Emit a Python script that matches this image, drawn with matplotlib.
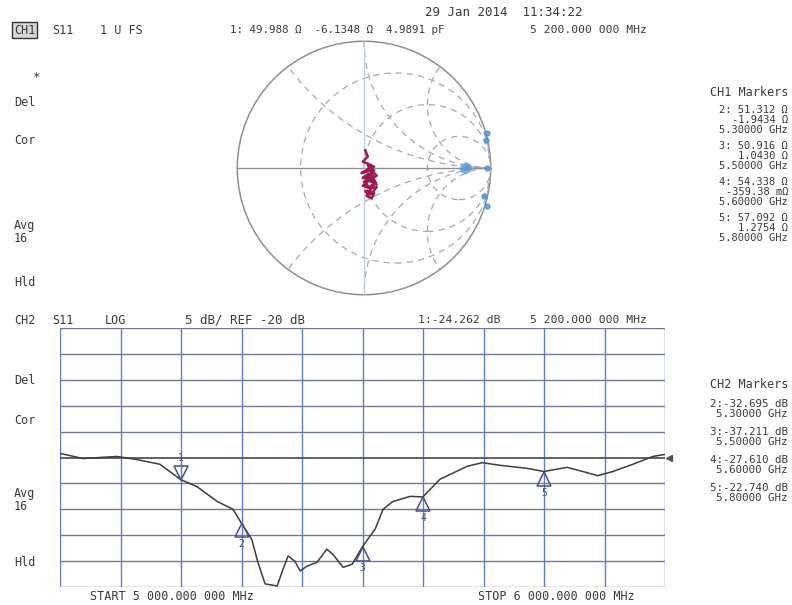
import matplotlib
matplotlib.use("Agg")
import matplotlib.pyplot as plt
import numpy as np
from matplotlib.patches import Circle
from matplotlib.transforms import offset_copy

# ---------------- data ----------------
freq_mhz = [5000, 5038, 5094, 5127, 5165, 5200, 5226, 5260, 5286, 5300,
            5317, 5327, 5339, 5359, 5367, 5377, 5388, 5397, 5408, 5425,
            5441, 5451, 5468, 5483, 5491, 5500, 5521, 5534, 5550, 5579,
            5600, 5628, 5673, 5698, 5727, 5772, 5800, 5838, 5864, 5889,
            5914, 5947, 5980, 6000]
s11_db = [-19.2, -20.2, -19.8, -20.4, -21.3, -24.3, -25.6, -28.5, -30.0, -32.7,
          -35.8, -40.2, -44.4, -44.8, -42.1, -39.0, -40.0, -41.9, -41.0, -40.2,
          -37.7, -38.7, -41.2, -40.6, -39.0, -37.2, -33.8, -30.0, -28.5, -27.5,
          -27.6, -24.2, -21.7, -21.0, -21.5, -22.1, -22.7, -21.9, -22.7, -23.5,
          -22.7, -21.3, -19.8, -19.4]

marker_ids = ["1", "2", "3", "4", "5"]
marker_freq = [5200, 5300, 5500, 5600, 5800]
marker_db = [-24.262, -32.695, -37.211, -27.610, -22.740]

# smith chart trace (reflection coefficient, real / imag)
smith_re = [0.01, 0.03, -0.01, 0.04, 0.08, 0.03, -0.02, 0.06, 0.10, 0.05,
            0.00, 0.07, 0.10, 0.04, -0.01, 0.05, 0.10, 0.07, 0.01, 0.03,
            0.08, 0.06, 0.02, 0.05, 0.09, 0.03, -0.01, 0.06, 0.09, 0.04,
            0.00, 0.05, 0.08, 0.03, 0.06]
smith_im = [0.14, 0.09, 0.05, 0.03, 0.01, -0.01, -0.04, -0.02, -0.06, -0.09,
            -0.07, -0.11, -0.13, -0.10, -0.14, -0.16, -0.15, -0.19, -0.18, -0.21,
            -0.20, -0.24, -0.22, -0.17, -0.11, -0.05, -0.08, -0.04, -0.12, -0.15,
            -0.11, -0.06, -0.02, 0.02, -0.03]
memory_re = [0.80, 0.82, 0.97, 0.96, 0.97, 0.95, 0.97]
memory_im = [0.00, 0.01, 0.00, 0.22, 0.28, -0.22, -0.30]

smith_r = [1 / 3, 1, 3]
smith_x = [0.5, 1, 2]

W, H = 792, 605
TXT = "#3a3a3a"
MONO = "DejaVu Sans Mono"

fig = plt.figure(figsize=(W / 100, H / 100), dpi=100)


def put(x, y, s, ha="left", size=8.5, **kw):
    fig.text(x / W, 1 - y / H, s, ha=ha, va="center", fontsize=size,
             family=MONO, color=TXT, **kw)


# ---------------- Smith chart ----------------
ax_s = fig.add_axes([236 / W, 1 - 296 / H, 256 / W, 256 / H])
ax_s.set_xlim(-1.01, 1.01)
ax_s.set_ylim(-1.01, 1.01)
ax_s.set_aspect("equal")
ax_s.axis("off")

outer = Circle((0, 0), 1, fill=False, ec="#8a8f98", lw=1.1)
ax_s.add_patch(outer)
for r in smith_r:
    c = Circle((r / (1 + r), 0), 1 / (1 + r), fill=False, ec="#a4a8b4",
               lw=0.9, ls=(0, (5, 4)))
    ax_s.add_patch(c)
    c.set_clip_path(outer)
for xv in smith_x:
    for sgn in (1, -1):
        c = Circle((1, sgn / xv), 1 / xv, fill=False, ec="#a4a8b4",
                   lw=0.9, ls=(0, (5, 4)))
        ax_s.add_patch(c)
        c.set_clip_path(outer)
ax_s.plot([-1, 1], [0, 0], color="#8a8f98", lw=1.0)
ax_s.plot([0, 0], [-1, 1], color="#b8cde0", lw=0.9)
ax_s.plot(memory_re, memory_im, "o", color="#4a90d9", ms=3.5, alpha=0.8)
ax_s.plot(memory_re[:1], memory_im[:1], "o", color="#5aa0e0", ms=7, alpha=0.7)
ax_s.plot(smith_re, smith_im, color="#9b1b50", lw=1.8)

# ---------------- S11 log magnitude ----------------
ax = fig.add_axes([60 / W, 1 - 587 / H, 605 / W, 259 / H])
ax.set_xlim(5000, 6000)
ax.set_ylim(-45, 5)
for f in np.arange(5000, 6001, 100):
    ax.axvline(f, color="#5f7cc8", lw=1.0)
for d in np.arange(-45, 6, 5):
    if d == -20:
        ax.axhline(d, color="#505560", lw=1.3)
    else:
        ax.axhline(d, color="#6f7896", lw=1.0)
for s in ax.spines.values():
    s.set_visible(False)
ax.set_xticks([])
ax.set_yticks([])
ax.plot(freq_mhz, s11_db, color="#3c3c3c", lw=1.1)

mcol = "#46508a"
for i, (mid, f, d) in enumerate(zip(marker_ids, marker_freq, marker_db)):
    if i == 0:
        tr = offset_copy(ax.transData, fig=fig, x=0, y=7, units="dots")
        ax.plot([f], [d], marker="v", ms=9.5, mfc="none", mec=mcol, mew=1.1,
                transform=tr)
        ax.annotate(mid, (f, d), xytext=(0, 22), textcoords="offset pixels",
                    ha="center", va="center", fontsize=7, family=MONO, color=mcol)
    else:
        tr = offset_copy(ax.transData, fig=fig, x=0, y=-7, units="dots")
        ax.plot([f], [d], marker="^", ms=9.5, mfc="none", mec=mcol, mew=1.1,
                transform=tr)
        ax.annotate(mid, (f, d), xytext=(0, -21), textcoords="offset pixels",
                    ha="center", va="center", fontsize=7, family=MONO, color=mcol)
tr = offset_copy(ax.transData, fig=fig, x=4, y=0, units="dots")
ax.plot([6000], [-20], marker="<", ms=5, color="#505560", transform=tr,
        clip_on=False)

# ---------------- annotations ----------------
put(425, 12, "29 Jan 2014  11:34:22", size=9)
put(14, 30, "CH1", bbox=dict(boxstyle="square,pad=0.15", fc="#d8d8d8",
                            ec="#333333", lw=1))
put(52, 30, "S11")
put(100, 30, "1 U FS")
put(230, 30, "1: 49.988 Ω  -6.1348 Ω  4.9891 pF", size=7.8)
put(530, 30, "5 200.000 000 MHz", size=8.2)

put(32, 77, "*", size=9)
for yy, s in [(103, "Del"), (140, "Cor"), (232, "Avg\n16"), (283, "Hld")]:
    put(14, yy, s, linespacing=0.9)
for yy, s in [(380, "Del"), (420, "Cor"), (500, "Avg\n16"), (562, "Hld")]:
    put(14, yy, s, linespacing=0.9)

put(788, 92, "CH1 Markers", ha="right")
ch1 = [("2: 51.312 Ω", "-1.9434 Ω", "5.30000 GHz"),
       ("3: 50.916 Ω", "1.0430 Ω", "5.50000 GHz"),
       ("4: 54.338 Ω", "-359.38 mΩ", "5.60000 GHz"),
       ("5: 57.092 Ω", "1.2754 Ω", "5.80000 GHz")]
for k, lines in enumerate(ch1):
    put(788, 120 + 36 * k, "\n".join(lines), ha="right", size=7.5,
        linespacing=0.95, multialignment="right")

put(788, 384, "CH2 Markers", ha="right")
ch2 = [("2:-32.695 dB", "5.30000 GHz"),
       ("3:-37.211 dB", "5.50000 GHz"),
       ("4:-27.610 dB", "5.60000 GHz"),
       ("5:-22.740 dB", "5.80000 GHz")]
for k, lines in enumerate(ch2):
    put(788, 409 + 28 * k, "\n".join(lines), ha="right", size=7.8,
        linespacing=0.95, multialignment="right")

put(14, 320, "CH2")
put(52, 320, "S11")
put(105, 320, "LOG")
put(185, 320, "5 dB/ REF -20 dB", size=9)
put(418, 320, "1:-24.262 dB", size=8.2)
put(530, 320, "5 200.000 000 MHz", size=8.2)

put(90, 596, "START 5 000.000 000 MHz", size=8.5)
put(478, 596, "STOP 6 000.000 000 MHz", size=8.5)

fig.savefig("out.png", dpi=100)
